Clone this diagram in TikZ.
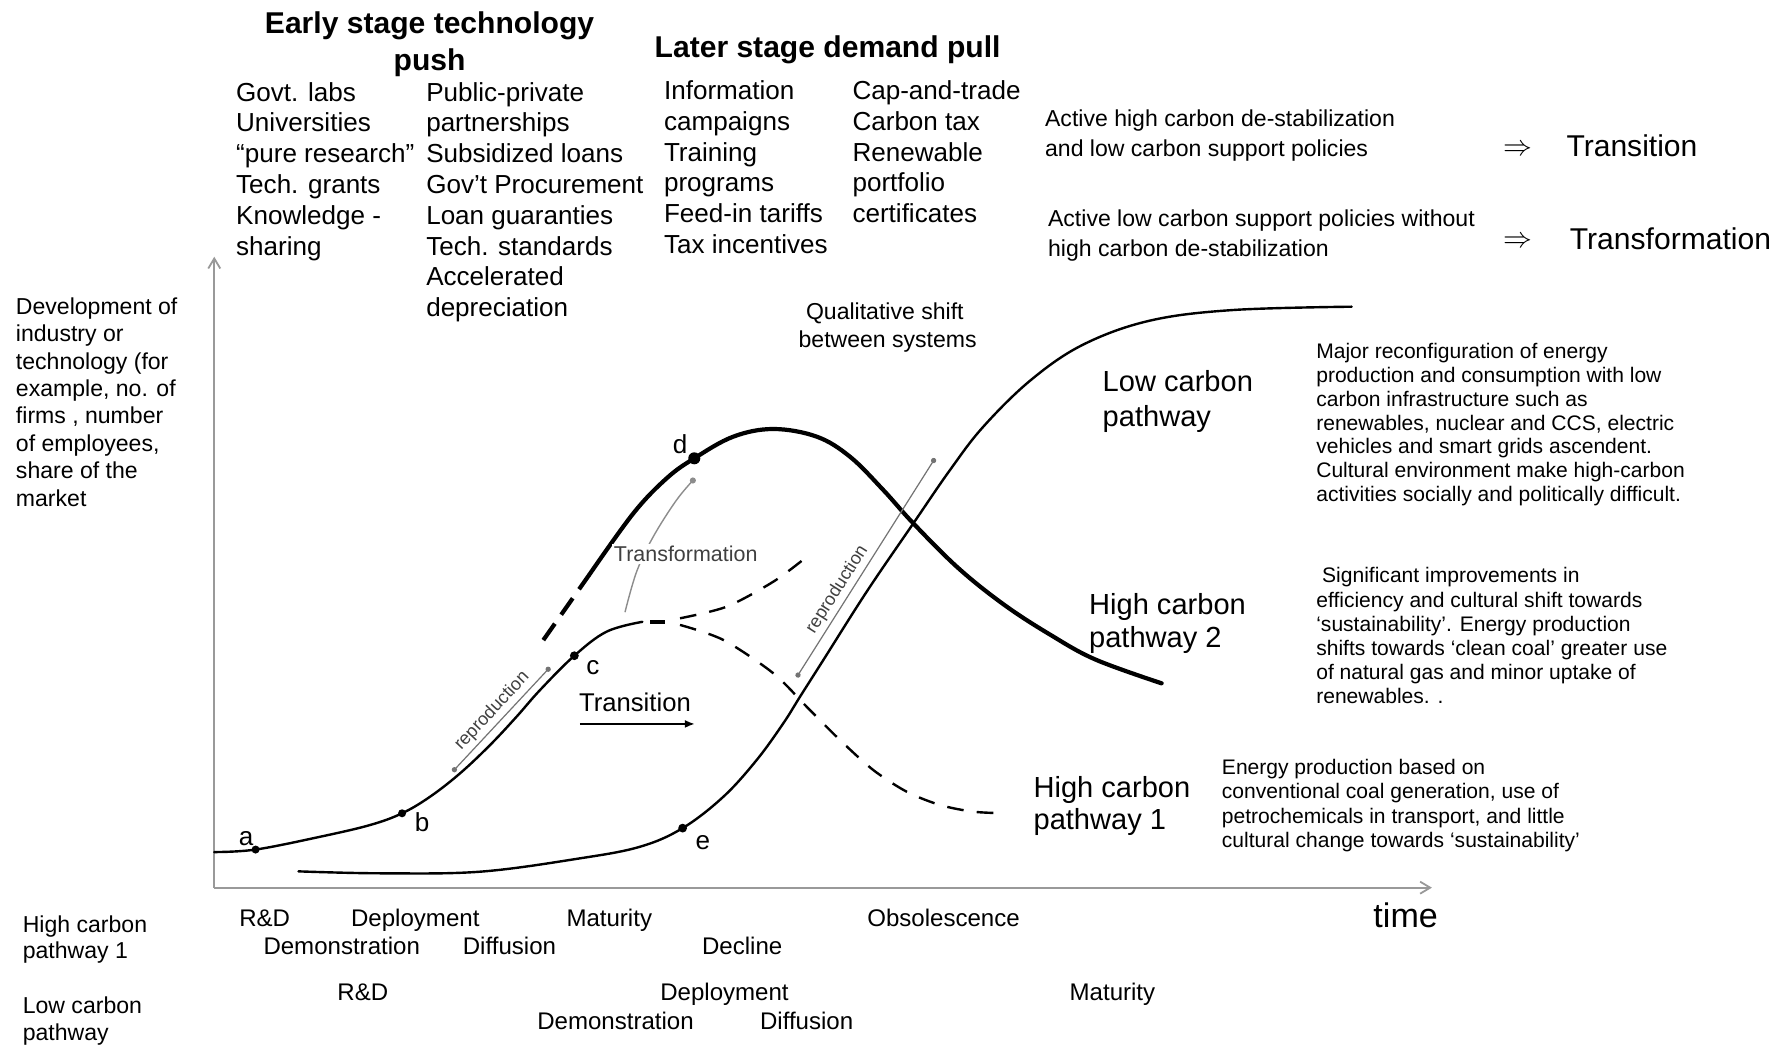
\documentclass[tikz,border=0pt]{standalone}
\usepackage{fontspec}
\setmainfont{Liberation Sans}
\usetikzlibrary{arrows.meta}
\begin{document}
\begin{tikzpicture}[x=0.02cm,y=-0.02cm,
  every node/.style={inner sep=0pt, outer sep=0pt},
  fhead/.style={font=\bfseries\fontsize{15}{18}\selectfont, yshift=-2.2pt},
  flist/.style={anchor=mid west, font=\fontsize{13}{15}\selectfont, yshift=-1.7pt},
  fpol/.style={anchor=mid west, font=\fontsize{11.5}{13}\selectfont, yshift=-1.3pt},
  fbig/.style={anchor=mid west, font=\fontsize{15}{18}\selectfont, yshift=-2.2pt},
  fylab/.style={anchor=mid west, font=\fontsize{11.5}{13}\selectfont, yshift=-1.1pt},
  fpath/.style={anchor=mid west, font=\fontsize{14.5}{17}\selectfont, yshift=-2.5pt},
  fdesc/.style={anchor=mid west, font=\fontsize{10.5}{12}\selectfont, yshift=-0.6pt},
  fstage/.style={anchor=mid, font=\fontsize{12}{14}\selectfont, yshift=-1.2pt},
  fside/.style={anchor=mid west, font=\fontsize{11.5}{13}\selectfont, yshift=-1pt},
  fpt/.style={anchor=mid, font=\fontsize{13}{15}\selectfont, yshift=-2pt},
  axis/.style={draw=black!40, line width=0.9pt, -{Straight Barb[length=5pt,width=6pt]}},
  curve/.style={line width=1.2pt, line cap=round},
  thickcurve/.style={line width=2.1pt, line cap=round},
  hdash/.style={line width=1.2pt, dash pattern=on 8.3pt off 6.6pt},
  repro/.style={draw=black!55, line width=0.6pt, {Circle[length=2.6pt]}-{Circle[length=2.6pt]}},
  rlabel/.style={font=\fontsize{9}{10}\selectfont, text=black!75},
]
% canvas
\fill[white] (0,0) rectangle (1568,917);
\useasboundingbox (0,0) rectangle (1568,917);

% ---- headings ----
\node[fhead, anchor=mid] (h1) at (376.5,21) {Early stage technology};
\node[fhead, anchor=mid] (h1b) at (376.5,53) {push};
\node[fhead, anchor=mid west] (h2) at (573.8,42) {Later stage demand pull};

% ---- policy lists ----
\foreach \t [count=\i] in {Govt. labs, Universities, “pure research”, Tech. grants, Knowledge -, sharing}
  \node[flist, name=la\i] at (207,{81+27*(\i-1)}) {\t};
\foreach \t [count=\i] in {Public-private, partnerships, Subsidized loans, Gov’t Procurement, Loan guaranties, Tech. standards, Accelerated, depreciation}
  \node[flist, name=lb\i] at (373.6,{81+27*(\i-1)}) {\t};
\foreach \t [count=\i] in {Information, campaigns, Training, programs, Feed-in tariffs, Tax incentives}
  \node[flist, name=lc\i] at (582,{79.5+27*(\i-1)}) {\t};
\foreach \t [count=\i] in {Cap-and-trade, Carbon tax, Renewable, portfolio, certificates}
  \node[flist, name=ld\i] at (747.2,{79.5+27*(\i-1)}) {\t};

% ---- policy outcomes ----
\node[fpol] (p1) at (916,103.7) {Active high carbon de-stabilization};
\node[fpol] (p2) at (916,130) {and low carbon support policies};
\node[fpol] (p3) at (918.6,192) {Active low carbon support policies without};
\node[fpol] (p4) at (918.6,218) {high carbon de-stabilization};
\node[anchor=mid, font=\fontsize{15}{18}\selectfont, yshift=-1.5pt] (imp1) at (1330,128.6) {$\Rightarrow$};
\node[anchor=mid, font=\fontsize{15}{18}\selectfont, yshift=-1.5pt] (imp2) at (1330,210) {$\Rightarrow$};
\node[fbig] (o1) at (1373,128.6) {Transition};
\node[fbig] (o2) at (1376,210) {Transformation};

% ---- y-axis label ----
\foreach \t [count=\i] in {Development of, industry or, technology (for, {example, no. of}, {firms , number}, {of employees,}, share of the, market}
  \node[fylab, name=yl\i] at (14,{269+24*(\i-1)}) {\t};

% ---- axes ----
\coordinate (O) at (187.8,778);
\coordinate (ytop) at (187.8,225);
\coordinate (xend) at (1255,778);
\draw[axis] (O) -- (ytop);
\draw[axis] (O) -- (xend);

% ---- key points ----
\coordinate (pa) at (224,744.6);
\coordinate (pb) at (352.4,712.8);
\coordinate (pc) at (503.4,574.7);
\coordinate (pd) at (608.5,401.7);
\coordinate (pe) at (598.3,725.8);

% ---- high carbon pathway (base S-curve) ----
\draw[curve] plot[smooth, tension=0.6] coordinates {(187.8,746.8) (pa) (280,733.5) (324.3,723.1) (pb) (376.9,698.3) (403.2,677.8) (429.5,653) (452.8,628.1) (473.3,604.8) (pc) (531.7,553.6) (563,545)};
\draw[line width=2pt] (569.7,544.9) -- (582.8,544.9);
\draw[hdash] plot[smooth, tension=0.5] coordinates {(596,541.9) (636.9,531.7) (677.8,509.8) (705.5,489.3)};
\draw[hdash] plot[smooth, tension=0.5] coordinates {(596,547.7) (634,560.9) (677.8,590.1) (707,619.4) (736.2,648.6) (765.4,674.9) (794.7,693.9) (823.8,705.5) (853,711.4) (880.8,712.8)};

% ---- high carbon pathway 2 (transformed) ----
\draw[thickcurve, line cap=butt, dash pattern=on 10pt off 5.5pt] (476.2,561) -- (516.5,503.7);
\draw[thickcurve] plot[smooth, tension=0.6] coordinates {(516.5,503.7) (555.1,449.9) (584.3,419.2) (pd) (642.7,382.7) (677.8,376) (715.8,382.7) (745,400.3) (774.2,429.5) (800.5,458.7) (840,498) (880,530) (920,556) (960,578) (1018.1,598.9)};

% ---- low carbon pathway ----
\draw[curve] plot[smooth, tension=0.6] coordinates {(261.6,763.7) (333,765.4) (420.7,764) (508.3,752.3) (561,742.1) (pe) (634,698.3) (663.2,666.1) (686.5,634) (701.2,610.6) (721.6,578.5) (760,518) (800.5,458.7) (832.6,412) (861.8,374) (903.6,333) (949.4,302) (1007.9,281) (1080.9,271.7) (1184.7,268.8)};

% ---- dots and letters ----
\fill (pa) circle (2pt);
\fill (pb) circle (2pt);
\fill (pc) circle (2.2pt);
\fill (pd) circle (3pt);
\fill (pe) circle (2.2pt);
\node[fpt] (la) at (215.7,733) {a};
\node[fpt] (lbb) at (370,721) {b};
\node[fpt] (lcc) at (519.6,582.6) {c};
\node[fpt] (ldd) at (596,389) {d};
\node[fpt] (lee) at (616,736.8) {e};

% ---- transformation arc ----
\coordinate (t0) at (547.8,536.5);
\coordinate (t1) at (609.1,419.2);
\draw[draw=black!45, line width=0.7pt, -{Circle[length=3pt]}] plot[smooth, tension=0.6] coordinates {(t0) (558,501) (572.6,470.3) (593,438.2) (t1)};
\node[anchor=mid, fill=white, inner sep=1pt, font=\fontsize{10.7}{12}\selectfont, text=black!75, yshift=-1pt] (tlab) at (601,486) {Transformation};

% ---- reproduction markers ----
\coordinate (r1a) at (396.7,676.3);
\coordinate (r1b) at (482,584.9);
\draw[repro] (r1a) -- node[rlabel, sloped, above=2pt, pos=0.5] (rl1) {reproduction} (r1b);
\coordinate (r2a) at (698.2,593.6);
\coordinate (r2b) at (819.5,401.7);
\draw[repro] (r2a) -- node[rlabel, sloped, above=2pt, pos=0.37] (rl2) {reproduction} (r2b);

% ---- transition arrow ----
\node[anchor=mid, font=\fontsize{12.8}{15}\selectfont, yshift=-2pt] (trl) at (556.5,615) {Transition};
\coordinate (ta) at (508.3,634.5);
\coordinate (tb) at (609.1,634.5);
\draw[line width=1.1pt, -{Latex[length=5pt,width=4pt]}] (ta) -- (tb);

% ---- qualitative shift ----
\node[anchor=mid, font=\fontsize{11.5}{13}\selectfont, yshift=-1.2pt] (q1) at (775.5,273.5) {Qualitative shift};
\node[anchor=mid, font=\fontsize{11.5}{13}\selectfont, yshift=-1.2pt] (q2) at (778,297.4) {between systems};

% ---- pathway names ----
\node[fpath] (lp1) at (966.5,334) {Low carbon};
\node[fpath] (lp2) at (966.5,364.5) {pathway};
\node[fpath] (hp2a) at (954.6,529.6) {High carbon};
\node[fpath] (hp2b) at (954.6,558.5) {pathway 2};
\node[fpath] (hp1a) at (905.9,689.8) {High carbon};
\node[fpath] (hp1b) at (905.9,718.4) {pathway 1};

% ---- pathway descriptions ----
\foreach \t [count=\i] in {Major reconfiguration of energy, production and consumption with low, carbon infrastructure such as, {renewables, nuclear and CCS, electric}, vehicles and smart grids ascendent., Cultural environment make high-carbon, activities socially and politically difficult.}
  \node[fdesc, name=da\i] at (1153.7,{308.6+20.9*(\i-1)}) {\t};
\foreach \t [count=\i] in {\ Significant improvements in, efficiency and cultural shift towards, ‘sustainability’. Energy production, shifts towards ‘clean coal’ greater use, of natural gas and minor uptake of, renewables. .}
  \node[fdesc, name=db\i] at (1153.7,{505.2+21.2*(\i-1)}) {\t};
\foreach \t [count=\i] in {Energy production based on, {conventional coal generation, use of}, {petrochemicals in transport, and little}, cultural change towards ‘sustainability’}
  \node[fdesc, name=dc\i] at (1071,{673.3+21.2*(\i-1)}) {\t};

% ---- life-cycle stages ----
\node[fside] (s1) at (20,811) {High carbon};
\node[fside] (s2) at (20,834) {pathway 1};
\node[fside] (s3) at (20,882) {Low carbon};
\node[fside] (s4) at (20,905.5) {pathway};

\node[fstage] (h1s1) at (232,805) {R\&D};
\node[fstage] (h1s2) at (364,805) {Deployment};
\node[fstage] (h1s3) at (534,805) {Maturity};
\node[fstage] (h1s4) at (827,805) {Obsolescence};
\node[fstage] (h1s5) at (299.5,830) {Demonstration};
\node[fstage] (h1s6) at (446.5,830) {Diffusion};
\node[fstage] (h1s7) at (650.5,830) {Decline};

\node[fstage] (lcs1) at (318,870) {R\&D};
\node[fstage] (lcs2) at (635,870) {Deployment};
\node[fstage] (lcs3) at (975,870) {Maturity};
\node[fstage] (lcs4) at (539.5,895.5) {Demonstration};
\node[fstage] (lcs5) at (707,895.5) {Diffusion};

\node[anchor=mid, font=\fontsize{17}{20}\selectfont, yshift=-3.2pt] (time) at (1232,803) {time};
\end{tikzpicture}
\end{document}
